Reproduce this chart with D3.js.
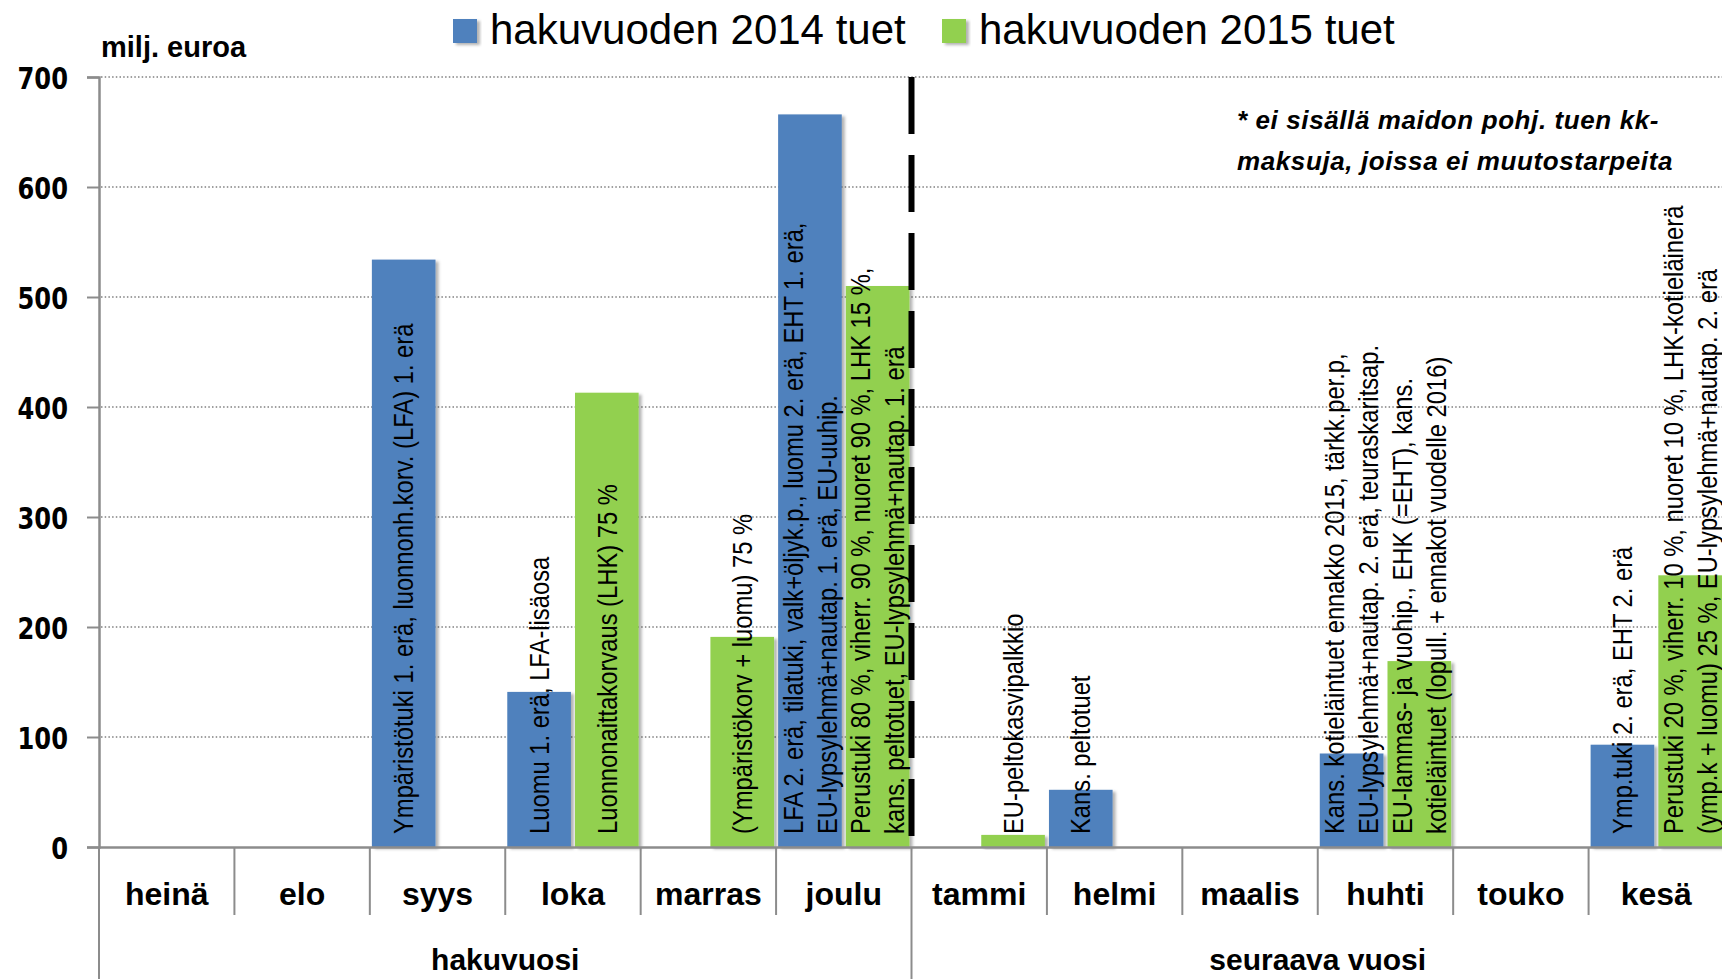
<!DOCTYPE html>
<html>
<head>
<meta charset="utf-8">
<script src="https://cdnjs.cloudflare.com/ajax/libs/d3/7.8.5/d3.min.js"></script>
<style>
  body { margin: 0; background: #fff; }
</style>
</head>
<body>
<div id="wrapper"></div>
<script>
// Data
const months = ["heinä", "elo", "syys", "loka", "marras", "joulu", "tammi", "helmi", "maalis", "huhti", "touko", "kesä"]
const periods = ["hakuvuosi", "seuraava vuosi"]
const periodStarts = ["heinä", "tammi"]
const periodEnds = ["joulu", "kesä"]
const seriesNames = ["hakuvuoden 2014 tuet", "hakuvuoden 2015 tuet"]
const seriesColors = ["#4f81bd", "#92d050"]
const values2014 = [0, 0, 534, 141, 0, 666, 0, 52, 0, 85, 0, 93]
const values2015 = [0, 0, 0, 413, 191, 510, 11, 0, 0, 169, 0, 247]
const labels2014 = [
  [], [],
  ["Ympäristötuki 1. erä, luonnonh.korv. (LFA) 1. erä"],
  ["Luomu 1. erä, LFA-lisäosa"],
  [],
  ["LFA 2. erä, tilatuki, valk+öljyk.p., luomu 2. erä, EHT 1. erä,", "EU-lypsylehmä+nautap. 1. erä, EU-uuhip."],
  [],
  ["Kans. peltotuet"],
  [],
  ["Kans. kotieläintuet ennakko 2015, tärkk.per.p,", "EU-lypsylehmä+nautap. 2. erä, teuraskaritsap."],
  [],
  ["Ymp.tuki 2. erä, EHT 2. erä"],
]
const labels2015 = [
  [], [], [],
  ["Luonnonaittakorvaus (LHK) 75 %"],
  ["(Ympäristökorv + luomu) 75 %"],
  ["Perustuki 80 %, viherr. 90 %, nuoret 90 %, LHK 15 %,", "kans. peltotuet, EU-lypsylehmä+nautap. 1. erä"],
  ["EU-peltokasvipalkkio"],
  [], [],
  ["EU-lammas- ja vuohip., EHK (=EHT), kans.", "kotieläintuet (lopull. + ennakot vuodelle 2016)"],
  [],
  ["Perustuki 20 %, viherr. 10 %, nuoret 10 %, LHK-kotieläinerä", "(ymp.k + luomu) 25 %, EU-lypsylehmä+nautap. 2. erä"],
]
const yTicks = [0, 100, 200, 300, 400, 500, 600, 700]
const yUnit = "milj. euroa"
const noteLines = ["* ei sisällä maidon pohj. tuen kk-", "maksuja, joissa ei muutostarpeita"]

function drawChart() {

  const dataset = []
  months.forEach((m, i) => {
    dataset.push({ month: m, series: 0, value: values2014[i], label: labels2014[i] })
    dataset.push({ month: m, series: 1, value: values2015[i], label: labels2015[i] })
  })

  const xAccessor = d => d.month
  const yAccessor = d => d.value

  // Set Bounds
  let dms = {
    width: 1722,
    height: 979,
    margin: {
      top: 77,
      right: -2,
      bottom: 132,
      left: 99,
    },
  }
  dms.boundedWidth = dms.width - dms.margin.left - dms.margin.right
  dms.boundedHeight = dms.height - dms.margin.top - dms.margin.bottom

  const wrapper = d3.select("#wrapper")
    .append("svg")
    .attr("width", dms.width)
    .attr("height", dms.height)
    .style("display", "block")
    .style("font-family", "'Liberation Sans', Arial, sans-serif")

  const defs = wrapper.append("defs")
  defs.append("filter")
    .attr("id", "shadow")
    .attr("x", "-10%").attr("y", "-10%")
    .attr("width", "130%").attr("height", "130%")
    .append("feDropShadow")
    .attr("dx", 3).attr("dy", 2)
    .attr("stdDeviation", 1.8)
    .attr("flood-color", "#000")
    .attr("flood-opacity", 0.3)

  const bounds = wrapper.append("g")
    .attr("transform", `translate(${dms.margin.left},${dms.margin.top})`)

  // Scales
  const xScale = d3.scaleBand()
    .domain(months)
    .range([0, dms.boundedWidth])

  const seriesScale = d3.scaleBand()
    .domain([0, 1])
    .range([0, xScale.bandwidth()])
    .paddingInner(0.06)
    .paddingOuter(0.03)

  const yScale = d3.scaleLinear()
    .domain([0, 700])
    .range([dms.boundedHeight, 0])

  // Gridlines
  bounds.append("g")
    .selectAll("line")
    .data(yTicks.filter(d => d > 0))
    .join("line")
    .attr("x1", 2)
    .attr("x2", dms.boundedWidth)
    .attr("y1", d => yScale(d))
    .attr("y2", d => yScale(d))
    .attr("stroke", "#808080")
    .attr("stroke-width", 1.5)
    .attr("stroke-dasharray", "1.5 2.2")

  // Bars
  const bars = dataset.filter(d => yAccessor(d) > 0)
  const barX = d => xScale(xAccessor(d)) + seriesScale(d.series)

  bounds.append("g")
    .selectAll("rect")
    .data(bars)
    .join("rect")
    .attr("x", barX)
    .attr("y", d => yScale(yAccessor(d)))
    .attr("width", seriesScale.bandwidth())
    .attr("height", d => dms.boundedHeight - yScale(yAccessor(d)))
    .attr("fill", d => seriesColors[d.series])
    .attr("filter", "url(#shadow)")

  // Bar labels (rotated)
  const lineGap = 34
  const labelLines = []
  bars.forEach(d => {
    const n = d.label.length
    d.label.forEach((t, i) => {
      labelLines.push({
        text: t,
        x: barX(d) + seriesScale.bandwidth() / 2 + (i - (n - 1) / 2) * lineGap,
      })
    })
  })

  bounds.append("g")
    .selectAll("text")
    .data(labelLines)
    .join("text")
    .attr("transform", d => `translate(${d.x},${dms.boundedHeight - 13}) rotate(-90) scale(0.88,1)`)
    .attr("dy", "0.36em")
    .attr("fill", "#000")
    .style("font-size", "27px")
    .text(d => d.text)

  // Y axis
  const yAxisGenerator = d3.axisLeft()
    .scale(yScale)
    .tickValues(yTicks)
    .tickSize(12)
    .tickFormat(d3.format("d"))

  const yAxis = bounds.append("g")
    .call(yAxisGenerator)

  yAxis.select(".domain")
    .attr("stroke", "#8c8c8c")
    .attr("stroke-width", 2.5)
  yAxis.selectAll(".tick line")
    .attr("stroke", "#8c8c8c")
    .attr("stroke-width", 2)
  yAxis.selectAll(".tick text")
    .attr("x", -31 / 0.78)
    .attr("dy", "0.36em")
    .attr("transform", "scale(0.78,1)")
    .attr("fill", "#000")
    .style("font-family", "'DejaVu Sans', Verdana, sans-serif")
    .style("font-weight", "bold")
    .style("font-size", "31px")

  // X axis
  const xAxisGenerator = d3.axisBottom()
    .scale(xScale)
    .tickSize(0)
    .tickSizeOuter(0)

  const xAxis = bounds.append("g")
    .attr("transform", `translate(0,${dms.boundedHeight})`)
    .call(xAxisGenerator)

  xAxis.select(".domain")
    .attr("stroke", "#8c8c8c")
    .attr("stroke-width", 2.5)
  xAxis.selectAll(".tick text")
    .attr("y", 58)
    .attr("dy", 0)
    .attr("fill", "#000")
    .style("font-family", "'Liberation Sans', Arial, sans-serif")
    .style("font-weight", "bold")
    .style("font-size", "32px")

  // category separators
  const boundaries = months.map(m => xScale(m)).concat([xScale.range()[1]])
  const longBounds = periodStarts.map(m => xScale(m))
  xAxis.append("g")
    .selectAll("line")
    .data(boundaries)
    .join("line")
    .attr("x1", d => d)
    .attr("x2", d => d)
    .attr("y1", 0)
    .attr("y2", d => longBounds.includes(d) ? dms.margin.bottom + 5 : 68)
    .attr("stroke", "#8c8c8c")
    .attr("stroke-width", 2)

  // period labels
  xAxis.append("g")
    .selectAll("text")
    .data(periods)
    .join("text")
    .attr("x", (d, i) => (xScale(periodStarts[i]) + xScale(periodEnds[i]) + xScale.bandwidth()) / 2)
    .attr("y", 123)
    .attr("text-anchor", "middle")
    .attr("fill", "#000")
    .style("font-weight", "bold")
    .style("font-size", "30px")
    .text(d => d)

  // Dashed divider between years
  bounds.append("line")
    .attr("x1", xScale(periodStarts[1]))
    .attr("x2", xScale(periodStarts[1]))
    .attr("y1", yScale(700))
    .attr("y2", yScale(0))
    .attr("stroke", "#000")
    .attr("stroke-width", 6)
    .attr("stroke-dasharray", "57 21")

  // Unit label
  wrapper.append("text")
    .attr("x", 101)
    .attr("y", 57)
    .attr("fill", "#000")
    .style("font-weight", "bold")
    .style("font-size", "29px")
    .text(yUnit)

  // Legend
  const legendX = [453, 942]
  const legend = wrapper.append("g")
    .selectAll("g")
    .data(seriesNames)
    .join("g")
    .attr("transform", (d, i) => `translate(${legendX[i]},0)`)

  legend.append("rect")
    .attr("x", 0)
    .attr("y", 19)
    .attr("width", 24)
    .attr("height", 24)
    .attr("fill", (d, i) => seriesColors[i])
    .attr("filter", "url(#shadow)")

  legend.append("text")
    .attr("x", 37)
    .attr("y", 44)
    .attr("fill", "#000")
    .style("font-size", "42px")
    .text(d => d)

  // Note
  wrapper.append("g")
    .selectAll("text")
    .data(noteLines)
    .join("text")
    .attr("x", 1237)
    .attr("y", (d, i) => 129 + i * 41)
    .attr("fill", "#000")
    .style("font-weight", "bold")
    .style("font-style", "italic")
    .style("font-size", "26px")
    .style("letter-spacing", "0.6px")
    .text(d => d)
}

drawChart()
</script>
</body>
</html>
